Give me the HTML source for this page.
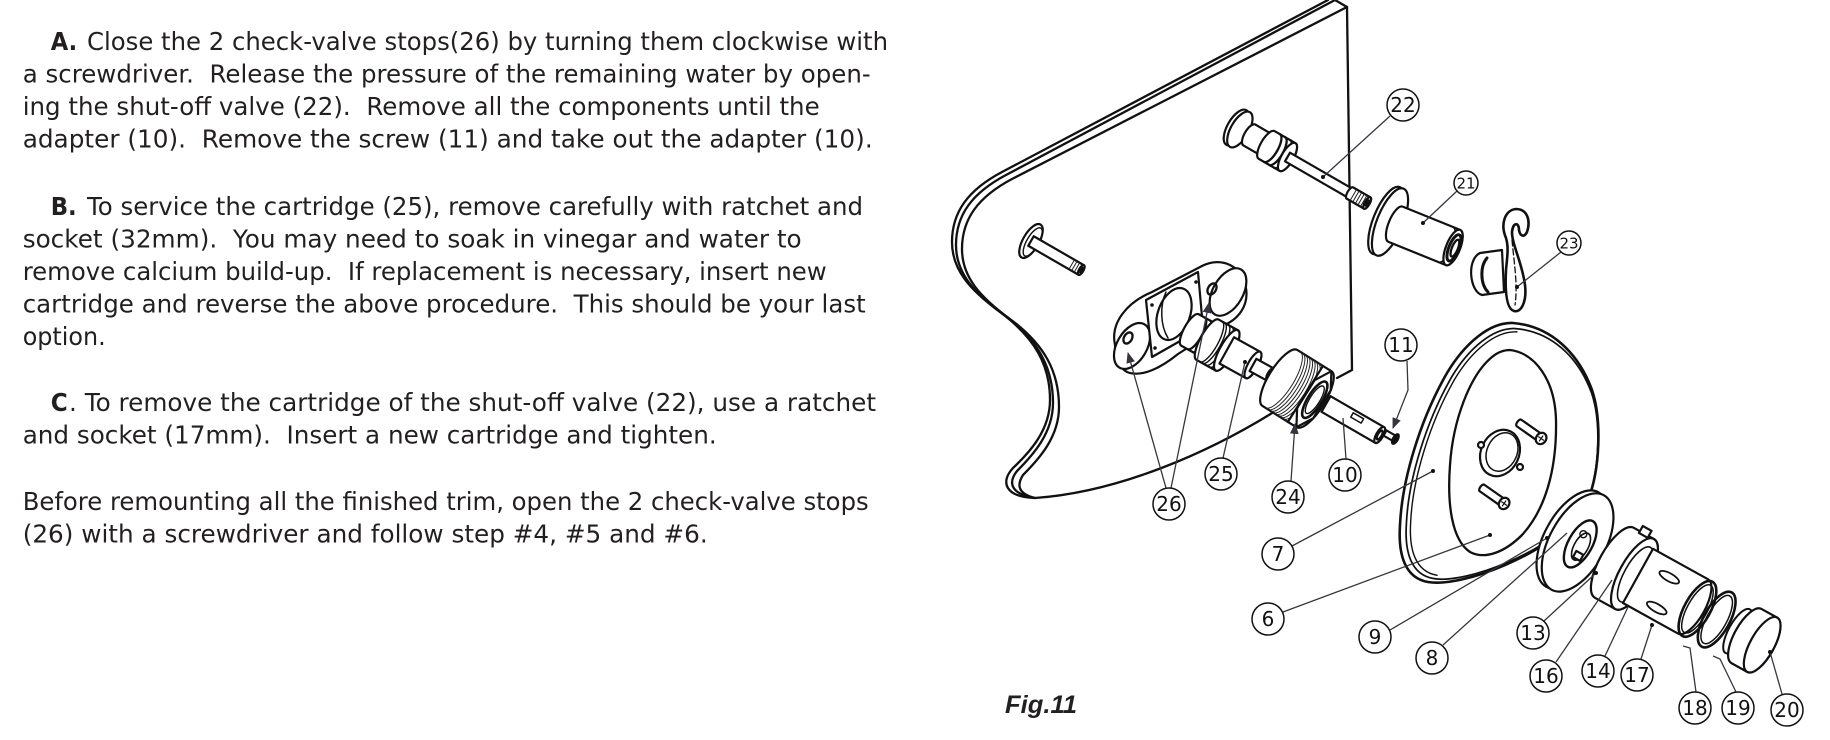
<!DOCTYPE html>
<html>
<head>
<meta charset="utf-8">
<style>
html,body{margin:0;padding:0;background:#fff;}
svg{display:block;}
.t{font-family:"DejaVu Sans","Liberation Sans",sans-serif;font-size:25px;fill:#231f20;}
.b{font-weight:bold;}
.d{fill:none;stroke:#111;stroke-width:2.3;stroke-linejoin:round;stroke-linecap:round;}
.w{fill:#fff;stroke:#111;stroke-width:2.2;stroke-linejoin:round;}
.th{fill:none;stroke:#222;stroke-width:1;}
.ld{fill:none;stroke:#3a3340;stroke-width:1.3;}
.lc{fill:#fff;stroke:#111;stroke-width:1.5;}
.ln{font-family:"DejaVu Sans","Liberation Sans",sans-serif;font-size:20px;fill:#111;text-anchor:middle;}
.ls{font-family:"DejaVu Sans","Liberation Sans",sans-serif;font-size:15px;fill:#111;text-anchor:middle;}
.dot{fill:#111;}
</style>
</head>
<body>
<svg width="1830" height="740" viewBox="0 0 1830 740" xmlns="http://www.w3.org/2000/svg">
<defs>
<marker id="ar" viewBox="0 0 10 10" refX="9" refY="5" markerWidth="11" markerHeight="11" markerUnits="userSpaceOnUse" orient="auto">
<path d="M0,1 L10,5 L0,9 z" fill="#3a3340"/>
</marker>
</defs>

<!-- ===== Body text ===== -->
<text class="t b" x="50.7" y="50" textLength="26.5" lengthAdjust="spacingAndGlyphs">A.</text>
<text class="t" x="87" y="50" textLength="801" lengthAdjust="spacingAndGlyphs">Close the 2 check-valve stops(26) by turning them clockwise with</text>
<text class="t" x="22.7" y="82.5" textLength="848" lengthAdjust="spacingAndGlyphs">a screwdriver.&#160; Release the pressure of the remaining water by open-</text>
<text class="t" x="22.7" y="115" textLength="797" lengthAdjust="spacingAndGlyphs">ing the shut-off valve (22).&#160; Remove all the components until the</text>
<text class="t" x="22.7" y="147.5" textLength="850" lengthAdjust="spacingAndGlyphs">adapter (10).&#160; Remove the screw (11) and take out the adapter (10).</text>

<text class="t b" x="50.7" y="215" textLength="26" lengthAdjust="spacingAndGlyphs">B.</text>
<text class="t" x="87" y="215" textLength="776" lengthAdjust="spacingAndGlyphs">To service the cartridge (25), remove carefully with ratchet and</text>
<text class="t" x="22.7" y="247.5" textLength="779" lengthAdjust="spacingAndGlyphs">socket (32mm).&#160; You may need to soak in vinegar and water to</text>
<text class="t" x="22.7" y="280" textLength="804" lengthAdjust="spacingAndGlyphs">remove calcium build-up.&#160; If replacement is necessary, insert new</text>
<text class="t" x="22.7" y="312.5" textLength="843" lengthAdjust="spacingAndGlyphs">cartridge and reverse the above procedure.&#160; This should be your last</text>
<text class="t" x="22.7" y="345" textLength="83" lengthAdjust="spacingAndGlyphs">option.</text>

<text class="t b" x="50.7" y="411" textLength="17" lengthAdjust="spacingAndGlyphs">C</text>
<text class="t" x="69" y="411" textLength="807" lengthAdjust="spacingAndGlyphs">. To remove the cartridge of the shut-off valve (22), use a ratchet</text>
<text class="t" x="22.7" y="443.5" textLength="694" lengthAdjust="spacingAndGlyphs">and socket (17mm).&#160; Insert a new cartridge and tighten.</text>

<text class="t" x="22.7" y="510" textLength="846" lengthAdjust="spacingAndGlyphs">Before remounting all the finished trim, open the 2 check-valve stops</text>
<text class="t" x="22.7" y="542.5" textLength="685" lengthAdjust="spacingAndGlyphs">(26) with a screwdriver and follow step #4, #5 and #6.</text>

<text x="1005" y="713" font-family="Liberation Sans, Arial, sans-serif" font-size="25" font-weight="bold" font-style="italic" fill="#231f20" textLength="72" lengthAdjust="spacingAndGlyphs">Fig.11</text>

<!-- ===== Wall panel ===== -->
<path class="d" d="M1328,0 L1002,172 C968,190 952,212 952,242 C952,270 970,290 1000,312 C1035,338 1050,365 1050,400 C1050,430 1030,452 1013,468 C1000,482 1005,497 1035,498 C1120,492 1210,452 1277,410"/>
<path class="d" d="M1335,0 L1006,175 C972,193 956,215 956,245 C956,273 974,293 1004,315 C1039,341 1053,368 1053,403 C1053,433 1033,455 1017,471 C1007,484 1012,494 1035,498"/>
<path class="d" d="M1347,7 L1012,179 C978,197 962,219 962,249 C962,277 980,297 1010,319 C1045,345 1059,372 1059,407 C1059,437 1039,459 1023,475 C1016,486 1019,494 1035,498"/>
<path class="d" d="M1335,0 L1347,7 L1352,370 L1337,378"/>

<!-- shut-off valve (22) -->
<g transform="translate(1239,129) rotate(30)">
<ellipse class="w" cx="-3" cy="0" rx="9" ry="20"/>
<ellipse class="w" cx="1" cy="0" rx="9" ry="20"/>
<path class="w" d="M12,-12 L36,-12 A5,12 0 0 1 36,12 L12,12 A5,12 0 0 1 12,-12 Z"/>
<path class="w" d="M32,-16 L56,-16 A6,16 0 0 1 56,16 L32,16 A6,16 0 0 1 32,-16 Z"/>
<path class="d" d="M38,-16 A6,16 0 0 1 38,16 M44,-16 A6,16 0 0 1 44,16 M50,-16 A6,16 0 0 1 50,16"/>
<ellipse class="w" cx="56" cy="0" rx="6" ry="16"/>
<path class="w" d="M56,-5 L134,-5 A2,5 0 0 1 134,5 L56,5 Z"/>
<path class="w" d="M128,-6.5 L148,-6.5 A2.5,6.5 0 0 1 148,6.5 L128,6.5 A2.5,6.5 0 0 1 128,-6.5 Z"/>
<path class="th" d="M132,-6.5 L132,6.5 M135,-6.5 L135,6.5 M138,-6.5 L138,6.5 M141,-6.5 L141,6.5 M144,-6.5 L144,6.5"/>
<ellipse class="w" cx="148" cy="0" rx="2.5" ry="6.5"/>
<ellipse class="d" cx="148" cy="0" rx="1" ry="3"/>
</g>

<!-- left stem -->
<g transform="translate(1031,241) rotate(30)">
<ellipse class="w" cx="0" cy="0" rx="8" ry="19"/>
<ellipse class="d" cx="2" cy="0" rx="6" ry="16" style="stroke-width:1.4"/>
<path class="w" d="M0,-5.5 L58,-5.5 A2.2,5.5 0 0 1 58,5.5 L0,5.5 Z"/>
<path class="th" d="M47,-5.5 L47,5.5 M50,-5.5 L50,5.5 M53,-5.5 L53,5.5 M56,-5.5 L56,5.5"/>
<ellipse class="w" cx="58" cy="0" rx="2.2" ry="5.5"/>
<ellipse class="d" cx="58" cy="0" rx="1" ry="2.5"/>
</g>

<!-- check valve body (26) -->
<path class="w" d="M1115,345 C1110,322 1128,302 1152,292 L1202,266 C1222,256 1242,266 1246,288 C1249,306 1238,320 1222,326 L1178,354 C1162,367 1142,378 1127,372 C1118,367 1115,356 1115,345 Z"/>
<ellipse class="w" cx="1228" cy="292" rx="15" ry="26" transform="rotate(30 1228 292)"/>
<ellipse class="w" cx="1132" cy="346" rx="15" ry="25" transform="rotate(30 1132 346)"/>
<polygon class="w" points="1146,300 1198,272 1203,328 1152,357"/>
<ellipse class="w" cx="1174" cy="314" rx="16" ry="27" transform="rotate(20 1174 314)"/>
<path class="d" d="M1166,292 C1160,305 1160,325 1168,338" style="stroke-width:1.5"/>
<ellipse class="d" cx="1128" cy="338" rx="4" ry="6" transform="rotate(30 1128 338)"/>
<ellipse class="d" cx="1212" cy="289" rx="4" ry="6" transform="rotate(30 1212 289)"/>
<circle class="dot" cx="1152" cy="305" r="1.8"/><circle class="dot" cx="1196" cy="282" r="1.8"/>
<circle class="dot" cx="1155" cy="348" r="1.8"/><circle class="dot" cx="1199" cy="324" r="1.8"/>

<!-- cartridge (25) -->
<g transform="translate(1190,330) rotate(29)">
<path class="w" d="M0,-18 L20,-18 A6,18 0 0 1 20,18 L0,18 A6,18 0 0 1 0,-18 Z"/>
<path class="d" d="M7,-18 A6,18 0 0 1 7,18 M13,-18 A6,18 0 0 1 13,18"/>
<path class="w" d="M20,-23 L42,-23 A7,23 0 0 1 42,23 L20,23 A7,23 0 0 1 20,-23 Z"/>
<path class="d" d="M24,-23 A7,23 0 0 1 24,23 M27,-23 A7,23 0 0 1 27,23 M31,-23 A7,23 0 0 1 31,23 M35,-23 A7,23 0 0 1 35,23 M38,-23 A7,23 0 0 1 38,23" style="stroke-width:1.4"/>
<ellipse class="w" cx="42" cy="0" rx="7" ry="23"/>
<path class="w" d="M42,-15 L72,-15 A5,15 0 0 1 72,15 L42,15 Z"/>
<ellipse class="w" cx="72" cy="0" rx="5" ry="15"/>
<path class="w" d="M72,-7 L92,-7 A3,7 0 0 1 92,7 L72,7 Z"/>
<ellipse class="w" cx="92" cy="0" rx="3" ry="7"/>
<ellipse cx="92" cy="0" rx="1.5" ry="3.5" fill="#111"/>
</g>

<!-- nut (24) -->
<g transform="translate(1280,378) rotate(32)">
<path class="w" d="M0,-33 L30,-33 A11,33 0 0 1 30,33 L0,33 A11,33 0 0 1 0,-33 Z"/>
<path class="th" d="M3,-33 A11,33 0 0 1 3,33 M6,-33 A11,33 0 0 1 6,33 M9,-33 A11,33 0 0 1 9,33 M12,-33 A11,33 0 0 1 12,33 M15,-33 A11,33 0 0 1 15,33 M18,-33 A11,33 0 0 1 18,33 M21,-33 A11,33 0 0 1 21,33 M24,-33 A11,33 0 0 1 24,33 M27,-33 A11,33 0 0 1 27,33"/>
<path class="w" d="M30,-33 L40,-33 A11,33 0 0 1 40,33 L30,33 Z"/>
<polygon class="w" points="40,-33 49.5,-16.5 49.5,16.5 40,33 30.5,16.5 30.5,-16.5"/>
<ellipse class="w" cx="41" cy="0" rx="7" ry="21" style="stroke-width:2.6"/>
<ellipse class="d" cx="41" cy="0" rx="5" ry="16" style="stroke-width:1.4"/>
</g>

<!-- adapter (10) -->
<g transform="translate(1326,404) rotate(30)">
<path class="w" d="M0,-9 L62,-9 A3.5,9 0 0 1 62,9 L0,9 Z"/>
<rect class="d" x="28" y="-6" width="12" height="5" style="stroke-width:1.5"/>
<ellipse class="w" cx="62" cy="0" rx="3.5" ry="9"/>
<ellipse class="d" cx="62" cy="0" rx="2" ry="5"/>
</g>

<!-- screw (11) -->
<g transform="translate(1385,433) rotate(30)">
<path class="w" d="M0,-3 L10,-3 L10,3 L0,3 Z"/>
<ellipse cx="12" cy="0" rx="3.5" ry="6.5" fill="#111"/>
</g>

<!-- part 21 -->
<g transform="translate(1390,222) rotate(22)">
<ellipse class="w" cx="-4" cy="0" rx="13" ry="36"/>
<ellipse class="w" cx="0" cy="0" rx="13" ry="36"/>
<path class="w" d="M6,-19 L68,-19 A7,19 0 0 1 68,19 L6,19 A7,19 0 0 1 6,-19 Z"/>
<path class="d" d="M60,-19 A7,19 0 0 1 60,19" style="stroke-width:1.6"/>
<ellipse class="w" cx="68" cy="0" rx="7" ry="19"/>
<ellipse class="d" cx="69" cy="0" rx="5" ry="14" style="stroke-width:3"/>
<ellipse class="d" cx="70" cy="0" rx="3" ry="9"/>
</g>

<!-- part 23 handle -->
<path class="w" d="M1480,253 L1502,250 L1504,292 L1482,295 C1470,292 1466,260 1480,253 Z"/>
<path class="d" d="M1487,258 C1480,266 1480,284 1488,292" style="stroke-width:3"/>
<path class="w" d="M1506,238 C1500,224 1505,210 1516,209 C1527,209 1531,220 1527,232 C1524,238 1520,236 1519,230 C1519,222 1513,222 1512,232 C1512,245 1522,262 1525,285 C1527,302 1521,313 1514,311 C1506,309 1505,290 1506,270 C1507,258 1509,248 1506,238 Z" style="stroke-width:2.6"/>
<path class="d" d="M1512,240 C1514,262 1518,285 1515,305" style="stroke-width:1.3;stroke-dasharray:6 3"/>

<!-- trim plate (7) -->
<path class="w" d="M1513,323 C1550,326 1578,352 1592,390 C1602,420 1600,470 1588,500 C1575,525 1545,548 1505,565 C1475,578 1445,585 1428,582 C1405,578 1398,555 1400,525 C1402,480 1420,420 1447,373 C1465,343 1490,322 1513,323 Z" style="stroke-width:2.6"/>
<path class="d" transform="translate(1500,455) scale(0.965) translate(-1500,-455) translate(3,1)" d="M1513,323 C1550,326 1578,352 1592,390 C1602,420 1600,470 1588,500 C1575,525 1545,548 1505,565 C1475,578 1445,585 1428,582 C1405,578 1398,555 1400,525 C1402,480 1420,420 1447,373 C1465,343 1490,322 1513,323 Z" style="stroke-width:1.8"/>
<path class="d" transform="translate(1500,455) scale(0.94) translate(-1500,-455) translate(5,1)" d="M1428,582 C1405,578 1398,555 1400,525 C1402,480 1420,420 1447,373 C1465,343 1490,322 1513,323" style="stroke-width:1.5"/>
<path class="d" d="M1510,350 C1535,353 1555,380 1556,420 C1557,470 1545,510 1522,535 C1505,552 1485,560 1470,552 C1452,540 1447,505 1450,465 C1453,420 1470,375 1492,357 C1498,352 1504,350 1510,350 Z"/>
<ellipse class="w" cx="1500" cy="453" rx="19" ry="24" transform="rotate(25 1500 453)"/>
<ellipse class="d" cx="1502" cy="452" rx="15" ry="20" transform="rotate(25 1502 452)" style="stroke-width:1.5"/>
<circle class="w" cx="1481" cy="445" r="3"/><circle class="w" cx="1520" cy="467" r="3"/>
<g transform="translate(1519,423) rotate(35)">
<path class="w" d="M0,-4 L26,-4 L26,4 L0,4 A2,4 0 0 1 0,-4 Z"/>
<ellipse class="w" cx="27" cy="0" rx="5" ry="6"/>
<path class="d" d="M24,0 L30,0 M27,-3 L27,3" style="stroke-width:1.2"/>
</g>
<g transform="translate(1482,488) rotate(35)">
<path class="w" d="M0,-4 L26,-4 L26,4 L0,4 A2,4 0 0 1 0,-4 Z"/>
<ellipse class="w" cx="27" cy="0" rx="5" ry="6"/>
<path class="d" d="M24,0 L30,0 M27,-3 L27,3" style="stroke-width:1.2"/>
</g>

<!-- escutcheon ring, sleeve, cylinder, rings, cap -->
<g transform="translate(1575,541) rotate(29)">
<ellipse class="w" cx="-3" cy="0" rx="28" ry="54"/>
<ellipse class="w" cx="3" cy="0" rx="28" ry="54"/>
<ellipse class="w" cx="6" cy="0" rx="12" ry="26" style="stroke-width:2.4"/>
<ellipse class="d" cx="8" cy="2" rx="7" ry="15" style="stroke-width:1.6"/>
<circle class="d" cx="4" cy="-10" r="3.5" style="stroke-width:1.4"/>
<rect class="w" x="6" y="8" width="8" height="7"/>
<path class="w" d="M45,-40 L68,-40 A15,40 0 0 1 68,40 L45,40 A15,40 0 0 1 45,-40 Z"/>
<ellipse class="w" cx="68" cy="0" rx="15" ry="40"/>
<rect class="w" x="52" y="-46" width="10" height="8"/>
<ellipse class="d" cx="69" cy="0" rx="11" ry="31" style="stroke-width:1.6"/>
<path class="w" d="M72,-31 L135,-31 A12,31 0 0 1 135,31 L72,31 Z"/>
<ellipse class="d" cx="100" cy="-14" rx="11" ry="4" style="stroke-width:1.8"/>
<ellipse class="d" cx="104" cy="19" rx="11" ry="4" style="stroke-width:1.8"/>
<ellipse class="d" cx="140" cy="0" rx="13" ry="31" style="stroke-width:2.6"/>
<ellipse class="d" cx="140" cy="0" rx="10" ry="27" style="stroke-width:1.5"/>
<ellipse class="d" cx="162" cy="0" rx="13" ry="31" style="stroke-width:2.6"/>
<ellipse class="d" cx="162" cy="0" rx="10" ry="27" style="stroke-width:1.5"/>
<ellipse class="d" cx="186" cy="0" rx="9" ry="25" style="stroke-width:2"/>
<path class="w" d="M196,-31 L214,-31 A12,31 0 0 1 214,31 L196,31 A12,31 0 0 1 196,-31 Z"/>
<ellipse class="w" cx="214" cy="0" rx="12" ry="31"/>
</g>

<!-- ===== Leaders ===== -->
<path class="ld" d="M1390,116 L1323,177"/><circle class="dot" cx="1323" cy="177" r="2"/>
<path class="ld" d="M1457,191 L1423,223"/><circle class="dot" cx="1423" cy="223" r="2"/>
<path class="ld" d="M1561,252 L1517,287"/><circle class="dot" cx="1517" cy="287" r="2"/>
<path class="ld" d="M1407,361 L1408,390 L1393,428" marker-end="url(#ar)"/>
<path class="ld" d="M1223,458 L1245,362"/><circle class="dot" cx="1245" cy="362" r="2"/>
<path class="ld" d="M1291,481 L1295,424" marker-end="url(#ar)"/>
<path class="ld" d="M1346,459 L1343,418"/>
<path class="ld" d="M1166,488 L1128,353" marker-end="url(#ar)"/>
<path class="ld" d="M1171,488 L1209,303" marker-end="url(#ar)"/>
<path class="ld" d="M1292,546 L1433,471"/><circle class="dot" cx="1433" cy="471" r="2"/>
<path class="ld" d="M1283,612 L1490,535"/><circle class="dot" cx="1490" cy="535" r="2"/>
<path class="ld" d="M1390,630 L1547,538"/><circle class="dot" cx="1547" cy="538" r="2"/>
<path class="ld" d="M1443,645 L1567,533"/>
<path class="ld" d="M1544,621 L1596,573"/><circle class="dot" cx="1596" cy="573" r="2"/>
<path class="ld" d="M1556,662 L1612,580"/>
<path class="ld" d="M1605,656 L1628,607"/>
<path class="ld" d="M1641,659 L1652,625"/><circle class="dot" cx="1652" cy="625" r="2"/>
<path class="ld" d="M1696,692 L1690,648 L1683,646"/>
<path class="ld" d="M1736,692 L1720,659 L1713,656"/>
<path class="ld" d="M1782,694 L1770,652"/><circle class="dot" cx="1770" cy="652" r="2"/>

<!-- ===== Labels ===== -->
<circle class="lc" cx="1403" cy="105" r="16"/><text class="ln" x="1403" y="112">22</text>
<circle class="lc" cx="1466" cy="183" r="12"/><text class="ls" x="1466" y="188.5">21</text>
<circle class="lc" cx="1569" cy="243" r="12"/><text class="ls" x="1569" y="248.5">23</text>
<circle class="lc" cx="1401" cy="345" r="16"/><text class="ln" x="1401" y="352">11</text>
<circle class="lc" cx="1221" cy="474" r="16"/><text class="ln" x="1221" y="481">25</text>
<circle class="lc" cx="1288" cy="497" r="16"/><text class="ln" x="1288" y="504">24</text>
<circle class="lc" cx="1345" cy="475" r="16"/><text class="ln" x="1345" y="482">10</text>
<circle class="lc" cx="1169" cy="504" r="16"/><text class="ln" x="1169" y="511">26</text>
<circle class="lc" cx="1278" cy="554" r="16"/><text class="ln" x="1278" y="561">7</text>
<circle class="lc" cx="1268" cy="619" r="16"/><text class="ln" x="1268" y="626">6</text>
<circle class="lc" cx="1375" cy="637" r="16"/><text class="ln" x="1375" y="644">9</text>
<circle class="lc" cx="1432" cy="658" r="16"/><text class="ln" x="1432" y="665">8</text>
<circle class="lc" cx="1533" cy="633" r="16"/><text class="ln" x="1533" y="640">13</text>
<circle class="lc" cx="1546" cy="676" r="16"/><text class="ln" x="1546" y="683">16</text>
<circle class="lc" cx="1598" cy="671" r="16"/><text class="ln" x="1598" y="678">14</text>
<circle class="lc" cx="1637" cy="675" r="16"/><text class="ln" x="1637" y="682">17</text>
<circle class="lc" cx="1695" cy="708" r="16"/><text class="ln" x="1695" y="715">18</text>
<circle class="lc" cx="1738" cy="708" r="16"/><text class="ln" x="1738" y="715">19</text>
<circle class="lc" cx="1787" cy="710" r="16"/><text class="ln" x="1787" y="717">20</text>
</svg>
</body>
</html>
